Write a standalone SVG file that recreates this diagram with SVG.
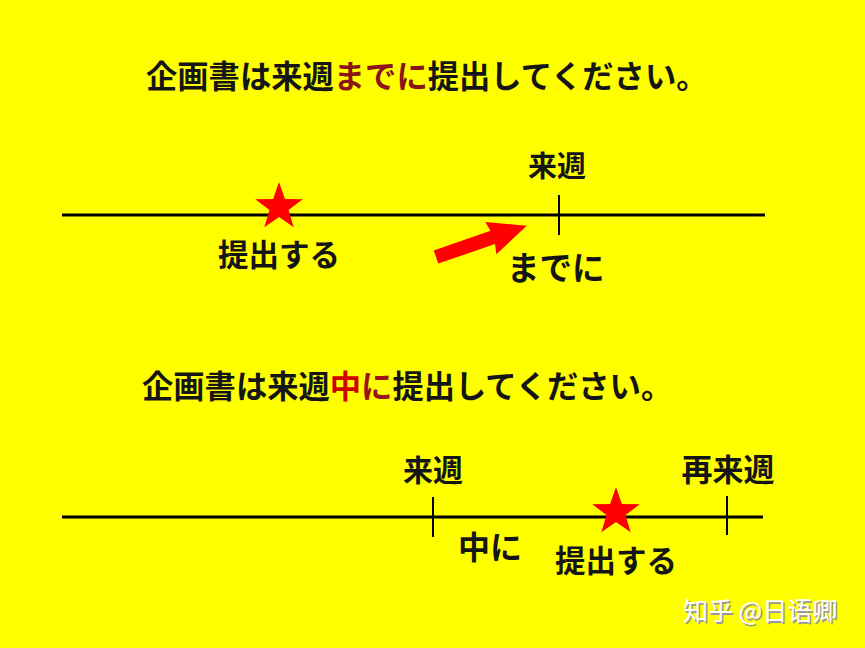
<svg xmlns="http://www.w3.org/2000/svg" width="865" height="648" viewBox="0 0 865 648">
<style>
.t{font-family:"Noto Sans CJK JP","Noto Sans CJK SC",sans-serif;font-weight:bold;fill:#151515}
.lbl{text-anchor:middle}
.axis{stroke:#000;stroke-width:3;fill:none}
.tick{stroke:#000;stroke-width:2;fill:none}
.star{fill:#FF0000}
.wm{font-family:"Noto Sans CJK SC","Noto Sans CJK JP",sans-serif;fill:#fff;font-size:25px}
</style>
<defs>
<polygon id="star" class="star" points="0,-25 5.88,-8.09 23.78,-7.73 9.51,3.09 14.69,20.23 0,10 -14.69,20.23 -9.51,3.09 -23.78,-7.73 -5.88,-8.09"/>
</defs>
<rect width="865" height="648" fill="#FFFF00"/>

<g id="connectors">
<line class="axis" x1="62" y1="215" x2="765" y2="215"/>
<line class="tick" x1="559" y1="195" x2="559" y2="235"/>
<line class="axis" x1="62" y1="517" x2="763" y2="517"/>
<line class="tick" x1="433" y1="497" x2="433" y2="537"/>
<line class="tick" x1="727" y1="496" x2="727" y2="535"/>
<g id="arrow" transform="translate(436,257) rotate(-19)">
<polygon fill="#FF0000" points="0,-7 60,-7 58,-17 96,0 58,17 60,7 0,7"/>
</g>
</g>

<g id="title1">
<text class="t" x="146" y="88" font-size="31.3">企画書は来週<tspan fill="#8B1414">までに</tspan>提出してください。</text>
</g>
<g id="label-raishu1"><text class="t lbl" x="557" y="177" font-size="29">来週</text></g>
<g id="star1"><use href="#star" x="279" y="207"/></g>
<g id="label-teishutsu1"><text class="t" x="218" y="266" font-size="30.5">提出する</text></g>
<g id="label-madeni"><text class="t" x="507" y="280" font-size="32.5">までに</text></g>

<g id="title2">
<text class="t" x="142" y="398" font-size="31.3">企画書は来週<tspan fill="#D00000">中</tspan><tspan fill="#9B1414">に</tspan>提出してください。</text>
</g>
<g id="label-raishu2"><text class="t lbl" x="433" y="481" font-size="30">来週</text></g>
<g id="label-sairaishu"><text class="t lbl" x="728" y="481" font-size="31">再来週</text></g>
<g id="star2"><use href="#star" x="616" y="512"/></g>
<g id="label-chuuni"><text class="t" x="458" y="559" font-size="32">中に</text></g>
<g id="label-teishutsu2"><text class="t" x="555" y="572" font-size="30.5">提出する</text></g>

<g id="watermark">
<text class="wm" x="684.5" y="621.5" style="fill:#999">知乎 @日语卿</text>
<text class="wm" x="683" y="620">知乎 @日语卿</text>
</g>
</svg>
